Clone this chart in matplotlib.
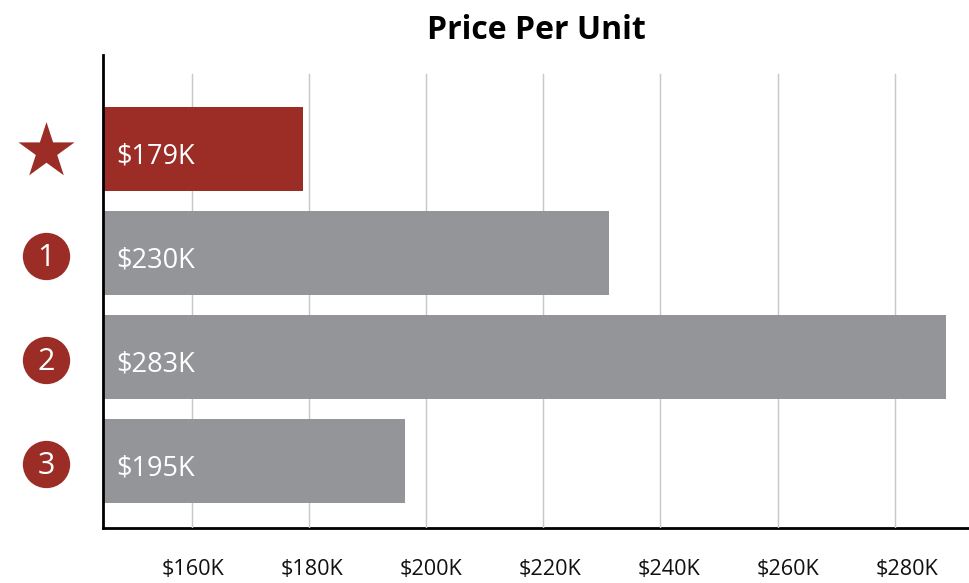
import matplotlib
matplotlib.use("Agg")
import matplotlib.pyplot as plt
from matplotlib.transforms import ScaledTranslation

plt.rcParams['font.family'] = ['Open Sans', 'DejaVu Sans']

TITLE = "Price Per Unit"
rank_labels = ["", "1", "2", "3"]
bar_values = [178.9, 231.1, 288.7, 196.4]
value_labels = ["$179K", "$230K", "$283K", "$195K"]
tick_values = [160, 180, 200, 220, 240, 260, 280]
tick_labels = ["$160K", "$180K", "$200K", "$220K", "$240K", "$260K", "$280K"]

RED = "#9b2d26"
GREY = "#949598"
bar_colors = [RED, GREY, GREY, GREY]

W, H = 969, 583
L, R, T, B = 103.4, 969, 55, 528
fig = plt.figure(figsize=(W / 100, H / 100), dpi=100, facecolor="white")
ax = fig.add_axes([L / W, 1 - B / H, (R - L) / W, (B - T) / H])

positions = list(range(len(bar_values)))
ax.barh(positions, bar_values, height=84 / 104, color=bar_colors, zorder=4)
XMIN = 160 - (192 - L) / 5.86
ax.set_xlim(XMIN, 160 + (R - 192) / 5.86)
ax.set_ylim((B - 149) / 104, (T - 149) / 104)

for t in tick_values:
    ax.axvline(t - 0.07, ymin=0, ymax=(B - 74) / (B - T), color="#c8c8c8", lw=1.05, zorder=3)

for s in ("top", "right"):
    ax.spines[s].set_visible(False)
for s in ("left", "bottom"):
    ax.spines[s].set_linewidth(2.0)
    ax.spines[s].set_color("black")
ax.spines["left"].set_zorder(5)

ax.set_yticks([])
ax.set_xticks(tick_values)
ax.set_xticklabels(tick_labels, fontsize=15.6, color="#111111")
ax.tick_params(axis="x", length=0, pad=22.6)
# the reference's tick labels are spaced slightly wider than its gridlines
for i, lab in enumerate(ax.get_xticklabels()):
    lab.set_transform(lab.get_transform() + ScaledTranslation((1 + 1.8 * i) / 100, 0, fig.dpi_scale_trans))

for y, lab in zip(positions, value_labels):
    ax.annotate(lab, xy=(XMIN, y), xytext=(9.4, -5.4), textcoords="offset points",
                color="white", fontsize=19.5, va="center", ha="left", zorder=6)

icon_x = (46.2 - L) / (R - L)
tr = ax.get_yaxis_transform()
for y, lab in zip(positions, rank_labels):
    if lab:
        ax.scatter([icon_x], [y + 0.026], transform=tr, s=1160, marker="o", color=RED,
                   linewidths=0, clip_on=False, zorder=6)
        ax.text(icon_x, y + 0.045, lab, transform=tr, color="white", fontsize=22,
                ha="center", va="center", zorder=7, clip_on=False)
    else:
        ax.scatter([icon_x], [y + 0.024], transform=tr, s=1800, marker="*", color=RED,
                   linewidths=0, clip_on=False, zorder=6)

ax.set_title(TITLE, fontsize=23, fontweight="bold", color="black", pad=11.5)

fig.savefig("out.png", dpi=100, facecolor="white")
